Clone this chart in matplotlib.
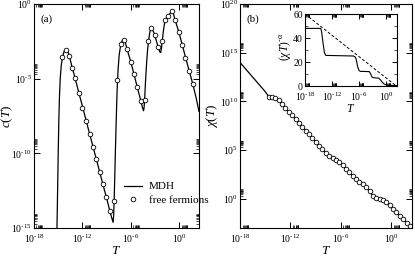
import numpy as np
import matplotlib
matplotlib.use('Agg')
import matplotlib.pyplot as plt
from matplotlib.ticker import FixedLocator, FixedFormatter, NullFormatter
from matplotlib.lines import Line2D

plt.rcParams['font.family'] = ['Liberation Serif', 'DejaVu Serif']
plt.rcParams['mathtext.fontset'] = 'custom'
plt.rcParams['mathtext.rm'] = 'Liberation Serif'
plt.rcParams['mathtext.it'] = 'Liberation Serif:italic'
plt.rcParams['mathtext.bf'] = 'Liberation Serif:bold'

# ---------------- data (log10 values) ----------------
# panel (a): specific heat c(T)
mdh_a_logT = [-15.17, -15.12, -15.06, -15.00, -14.93, -14.85, -14.75, -14.62, -14.45, -14.25,
              -14.05, -13.85, -13.63, -13.27, -12.90, -12.45, -11.90, -11.30, -10.70, -10.10,
              -9.50, -9.00, -8.60, -8.35, -8.20, -8.13, -8.07, -8.00, -7.90, -7.80,
              -7.70, -7.58, -7.45, -7.27, -7.07, -6.90, -6.72, -6.48, -6.00, -5.60,
              -5.20, -4.75, -4.55, -4.42, -4.35, -4.28, -4.18, -4.05, -3.92, -3.80,
              -3.65, -3.50, -3.35, -3.15, -2.90, -2.60, -2.40, -2.30, -2.20, -2.10,
              -1.95, -1.80, -1.60, -1.35, -1.10, -0.90, -0.75, -0.55, -0.05, 0.40,
              0.80, 1.25, 1.70, 2.10, 2.45]
mdh_a_logc = [-15.5, -14.0, -12.0, -10.0, -8.0, -6.3, -5.0, -4.1, -3.5, -3.15,
              -3.02, -3.12, -3.45, -4.25, -4.98, -5.93, -7.05, -8.30, -9.52, -10.75,
              -12.0, -13.0, -13.85, -14.35, -14.62, -14.2, -13.2, -11.8, -9.6, -7.6,
              -5.8, -4.4, -3.45, -2.78, -2.45, -2.38, -2.50, -3.00, -3.88, -4.72,
              -5.58, -6.50, -6.95, -7.15, -6.90, -6.30, -5.20, -4.00, -3.05, -2.45,
              -1.90, -1.65, -1.68, -1.90, -2.35, -2.90, -3.22, -3.25, -2.95, -2.45,
              -1.75, -1.22, -0.95, -0.78, -0.60, -0.50, -0.60, -1.00, -1.88, -2.78,
              -3.62, -4.50, -5.40, -6.30, -7.20]
ff_a_logT = [-14.54, -14.05, -13.63, -13.27, -12.92, -12.47, -12.00, -11.57, -11.10, -10.69,
             -10.29, -9.87, -9.50, -9.10, -8.60, -8.07, -7.67, -7.27, -6.88, -6.48,
             -6.00, -5.60, -5.21, -4.75, -4.30, -3.82, -3.50, -3.02, -2.63, -2.12,
             -1.75, -1.35, -0.92, -0.52, -0.04, 0.36, 0.75, 1.23, 1.67]
ff_a_logc = [-3.54, -3.05, -3.45, -4.28, -4.95, -5.95, -6.95, -7.82, -8.70, -9.55,
             -10.40, -11.25, -12.05, -12.90, -13.85, -13.20, -5.10, -2.65, -2.42, -3.02,
             -3.86, -4.72, -5.58, -6.50, -6.40, -2.47, -1.63, -2.05, -2.85, -2.50,
             -1.07, -0.80, -0.50, -1.05, -1.86, -2.75, -3.60, -4.48, -5.38]

# panel (b): susceptibility chi(T)
mdh_b_logT = [-18.0, -15.0, -14.6, -14.2, -13.8, -13.4, -13.0, -7.8, -7.4, -7.0,
              -6.6, -6.2, -5.8, -4.2, -3.8, -3.4, -3.0, -2.6, -2.2, -1.8,
              -1.4, -1.0, -0.6, -0.2, 0.2, 2.45]
mdh_b_logchi = [14.0, 11.0, 10.52, 10.46, 10.36, 10.10, 9.74, 4.70, 4.38, 4.16,
                4.00, 3.76, 3.44, 1.98, 1.70, 1.52, 1.22, 0.75, 0.32, 0.10,
                0.00, -0.12, -0.35, -0.65, -1.00, -3.05]
ff_b_logT = [-14.6, -14.2, -13.8, -13.4, -13.0, -12.6, -12.2, -11.8, -11.4, -11.0,
             -10.6, -10.2, -9.8, -9.4, -9.0, -8.6, -8.2, -7.8, -7.4, -7.0,
             -6.6, -6.2, -5.8, -5.4, -5.0, -4.6, -4.2, -3.8, -3.4, -3.0,
             -2.6, -2.2, -1.8, -1.4, -1.0, -0.6, -0.2, 0.2, 0.6, 1.0,
             1.4, 1.8, 2.2]
ff_b_logchi = [10.50, 10.46, 10.36, 10.10, 9.74, 9.35, 8.96, 8.57, 8.18, 7.79,
               7.40, 7.01, 6.62, 6.23, 5.84, 5.45, 5.07, 4.70, 4.38, 4.16,
               4.00, 3.76, 3.44, 3.08, 2.71, 2.34, 1.98, 1.70, 1.52, 1.22,
               0.75, 0.32, 0.10, 0.00, -0.12, -0.35, -0.65, -1.00, -1.36, -1.72,
               -2.08, -2.44, -2.80]

# inset: (chi T)^(-alpha)
inset_solid_logT = [-18.0, -14.5, -14.3, -14.0, -13.7, -13.4, -7.2, -6.8, -6.6, -6.3,
                    -6.0, -5.7, -3.7, -3.4, -3.1, -2.9, -1.6, -1.2, -0.8, -0.4,
                    0.0, 0.5, 2.45]
inset_solid_val = [48, 48, 45, 36, 28, 25.5, 25, 24, 22, 16,
                   13, 12.2, 12, 10, 7.5, 7, 6.5, 5, 3, 1.6,
                   1.0, 0.6, 0.3]
inset_dash_logT = [-18.0, 2.3]
inset_dash_val = [60.0, 0.0]

xmajor_exp = [-18, -12, -6, 0]
ya_exp = [-15, -10, -5, 0]
yb_exp = [0, 5, 10, 15, 20]
inset_yticks = [0, 20, 40, 60]

# ---------------- figure ----------------
W, H = 415, 256
fig = plt.figure(figsize=(W / 100, H / 100), dpi=100)

def px_axes(l, r, t, b):
    return fig.add_axes([l / W, 1 - b / H, (r - l) / W, (b - t) / H])

def pow_label(e):
    if e < 0:
        return r'$10^{\text{-}%d}$' % (-e)
    return r'$10^{%d}$' % e

XMAX = 10 ** 2.45
TICK_FS = 7
LAB_FS = 9.5

def style_log(ax, xexp, yexp, xlim, ylim, fs=TICK_FS):
    ax.set_xscale('log')
    ax.set_yscale('log')
    ax.set_xlim(*xlim)
    ax.set_ylim(*ylim)
    ax.xaxis.set_major_locator(FixedLocator([10.0 ** e for e in xexp]))
    ax.xaxis.set_major_formatter(FixedFormatter([pow_label(e) for e in xexp]))
    ax.xaxis.set_minor_locator(FixedLocator([k * 10.0 ** e for e in xexp for k in range(2, 10)]))
    ax.xaxis.set_minor_formatter(NullFormatter())
    ax.yaxis.set_major_locator(FixedLocator([10.0 ** e for e in yexp]))
    ax.yaxis.set_major_formatter(FixedFormatter([pow_label(e) for e in yexp]))
    ax.yaxis.set_minor_locator(FixedLocator([k * 10.0 ** e for e in yexp for k in range(2, 10)]))
    ax.yaxis.set_minor_formatter(NullFormatter())
    ax.tick_params(which='both', direction='in', top=True, right=True, labelsize=fs, pad=1.5)
    ax.tick_params(axis='x', which='major', pad=3)
    ax.tick_params(which='major', length=4.5, width=0.7)
    ax.tick_params(which='minor', length=2.5, width=0.5)
    for s in ax.spines.values():
        s.set_linewidth(0.8)

# panel (a)
AL, AR = 34, 199
axa = px_axes(AL, AR, 4, 228)
style_log(axa, xmajor_exp, ya_exp, (1e-18, XMAX), (1e-15, 1.0))
axa.plot(10.0 ** np.array(mdh_a_logT), 10.0 ** np.array(mdh_a_logc), color='black', lw=0.9)
axa.plot(10.0 ** np.array(ff_a_logT), 10.0 ** np.array(ff_a_logc), ls='none', marker='o',
         ms=3.3, mfc='white', mec='black', mew=0.6)
axa.set_xlabel(r'$T$', fontsize=LAB_FS, labelpad=0)
axa.set_ylabel(r'$c(T)$', fontsize=LAB_FS)
axa.yaxis.set_label_coords((15 - AL) / (AR - AL), 0.5)
axa.text(0.04, 0.955, '(a)', transform=axa.transAxes, fontsize=8, va='top', ha='left')
handles = [Line2D([], [], color='black', lw=0.9),
           Line2D([], [], ls='none', marker='o', ms=3.3, mfc='white', mec='black', mew=0.6)]
axa.legend(handles, ['MDH', 'free fermions'], loc='lower left', bbox_to_anchor=(0.50, 0.07),
           frameon=False, fontsize=8, handlelength=1.6, handletextpad=0.6,
           labelspacing=0.3, borderpad=0.2)

# panel (b)
BL, BR = 240, 412
axb = px_axes(BL, BR, 4, 228)
style_log(axb, xmajor_exp, yb_exp, (1e-18, XMAX), (1e-3, 1e20))
axb.plot(10.0 ** np.array(mdh_b_logT), 10.0 ** np.array(mdh_b_logchi), color='black', lw=0.9)
axb.plot(10.0 ** np.array(ff_b_logT), 10.0 ** np.array(ff_b_logchi), ls='none', marker='o',
         ms=3.3, mfc='white', mec='black', mew=0.6)
axb.set_xlabel(r'$T$', fontsize=LAB_FS, labelpad=0)
axb.set_ylabel(r'$\chi(T)$', fontsize=LAB_FS)
axb.yaxis.set_label_coords((220 - BL) / (BR - BL), 0.5)
axb.text(0.04, 0.955, '(b)', transform=axb.transAxes, fontsize=8, va='top', ha='left')

# inset
IL, IR = 305, 397
axi = px_axes(IL, IR, 14, 86)
axi.set_xscale('log')
axi.set_xlim(1e-18, XMAX)
axi.set_ylim(0, 60)
axi.xaxis.set_major_locator(FixedLocator([10.0 ** e for e in xmajor_exp]))
axi.xaxis.set_major_formatter(FixedFormatter([pow_label(e) for e in xmajor_exp]))
axi.xaxis.set_minor_locator(FixedLocator([k * 10.0 ** e for e in xmajor_exp for k in range(2, 10)]))
axi.xaxis.set_minor_formatter(NullFormatter())
axi.yaxis.set_major_locator(FixedLocator(inset_yticks))
axi.yaxis.set_minor_locator(FixedLocator([10, 30, 50]))
axi.tick_params(which='both', direction='in', top=True, right=True, labelsize=7, pad=1.5)
axi.tick_params(axis='x', which='major', pad=3)
axi.tick_params(which='major', length=3.5, width=0.7)
axi.tick_params(which='minor', length=2, width=0.5)
for s in axi.spines.values():
    s.set_linewidth(0.8)
axi.plot(10.0 ** np.array(inset_solid_logT), inset_solid_val, color='black', lw=0.8)
axi.plot(10.0 ** np.array(inset_dash_logT), inset_dash_val, color='black', lw=0.7,
         ls=(0, (3, 2)))
axi.set_xlabel(r'$T$', fontsize=8.5, labelpad=0)
axi.set_ylabel(r'$(\chi T)^{\text{-}\alpha}$', fontsize=8.5)
axi.yaxis.set_label_coords((293 - IL) / (IR - IL), 0.55)

fig.savefig('out.png', dpi=100)
